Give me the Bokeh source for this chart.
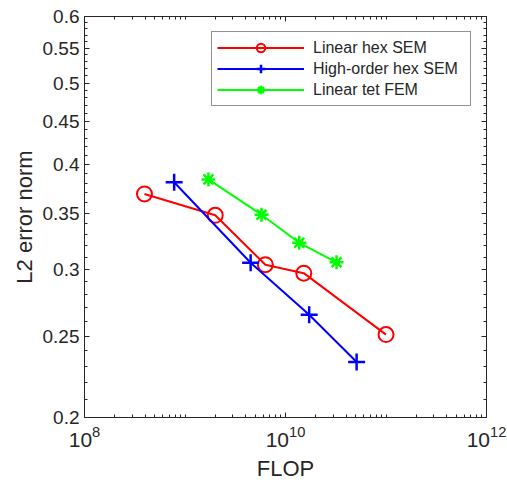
from bokeh.plotting import figure
from bokeh.models import (LogAxis, FixedTicker, NumeralTickFormatter, Legend, LegendItem,
                          Range1d)
from bokeh.embed import file_html
from bokeh.resources import INLINE

# ---- data ----
hex_lin_flop = [3.95e8, 2.0e9, 6.3e9, 1.52e10, 1.0e11]
hex_lin_err = [0.369, 0.348, 0.304, 0.297, 0.251]

hex_ho_flop = [7.8e8, 4.5e9, 1.72e10, 5.1e10]
hex_ho_err = [0.381, 0.3056, 0.265, 0.2328]

tet_lin_flop = [1.71e9, 5.77e9, 1.37e10, 3.22e10]
tet_lin_err = [0.384, 0.3486, 0.3228, 0.306]

x_major = [1e8, 1e10, 1e12]
x_minor = [k * 10.0 ** e for e in range(8, 12) for k in range(1, 10) if not (k == 1 and e % 2 == 0)]
y_major = [0.2, 0.25, 0.3, 0.35, 0.4, 0.45, 0.5, 0.55, 0.6]
y_minor = [round(0.2 + 0.01 * i, 2) for i in range(1, 40) if i % 5 != 0]

FONT = "Liberation Sans"
TXT = "#262626"

p = figure(width=507, height=485, x_axis_type="log", y_axis_type="log",
           x_range=Range1d(1e8, 1e12), y_range=Range1d(0.2, 0.6),
           output_backend="svg", toolbar_location=None,
           min_border_left=84, min_border_right=21, min_border_top=16, min_border_bottom=68)

p.background_fill_color = "white"
p.border_fill_color = "white"
p.outline_line_color = TXT
p.outline_line_width = 1
p.xgrid.visible = False
p.ygrid.visible = False

def style_axis(ax, show_labels=True):
    ax.axis_line_color = TXT
    ax.major_tick_line_color = TXT
    ax.minor_tick_line_color = TXT
    ax.major_tick_in = 5
    ax.major_tick_out = 0
    ax.minor_tick_in = 3
    ax.minor_tick_out = 0
    ax.major_label_text_font = FONT
    ax.major_label_text_color = TXT
    ax.major_label_text_font_size = "19px"
    ax.axis_label_text_font = FONT
    ax.axis_label_text_color = TXT
    ax.axis_label_text_font_size = "22px"
    ax.axis_label_text_font_style = "normal"
    if not show_labels:
        ax.major_label_text_alpha = 0
        ax.major_label_text_font_size = "2px"

xax = p.xaxis[0]
xax.ticker = FixedTicker(ticks=x_major, minor_ticks=x_minor)
xax.axis_label = "FLOP"
style_axis(xax)
xax.major_label_text_font_size = "21px"
xax.major_label_standoff = 8
xax.axis_label_standoff = 6

yax = p.yaxis[0]
yax.ticker = FixedTicker(ticks=y_major, minor_ticks=y_minor)
yax.formatter = NumeralTickFormatter(format="0.0[0]")
yax.axis_label = "L2 error norm"
style_axis(yax)
yax.major_label_standoff = 5
yax.axis_label_standoff = 3

top = LogAxis(ticker=FixedTicker(ticks=x_major, minor_ticks=x_minor),
              formatter=NumeralTickFormatter(format="0"))
style_axis(top, show_labels=False)
top.major_label_standoff = 0
p.add_layout(top, "above")

right = LogAxis(ticker=FixedTicker(ticks=y_major, minor_ticks=y_minor),
                formatter=NumeralTickFormatter(format="0.0[0]"))
style_axis(right, show_labels=False)
right.major_label_standoff = 0
p.add_layout(right, "right")

r1l = p.line(hex_lin_flop, hex_lin_err, line_color="#ff0000", line_width=2)
r1m = p.scatter(hex_lin_flop, hex_lin_err, marker="circle", size=15, line_color="#ff0000",
                fill_color=None, line_width=2)
r2l = p.line(hex_ho_flop, hex_ho_err, line_color="#0000ff", line_width=2)
r2m = p.scatter(hex_ho_flop, hex_ho_err, marker="cross", size=17, line_color="#0000ff",
                line_width=2.5)
r3l = p.line(tet_lin_flop, tet_lin_err, line_color="#00ff00", line_width=2)
r3m = p.scatter(tet_lin_flop, tet_lin_err, marker="asterisk", size=14, line_color="#00ff00",
                line_width=2.5)

legend = Legend(items=[
    LegendItem(label="Linear hex SEM", renderers=[r1l, r1m]),
    LegendItem(label="High-order hex SEM", renderers=[r2l, r2m]),
    LegendItem(label="Linear tet FEM", renderers=[r3l, r3m]),
], location="top_right")
legend.margin = 15
legend.padding = 5
legend.spacing = 0
legend.glyph_width = 87
legend.glyph_height = 21
legend.label_height = 21
legend.label_width = 152
legend.label_standoff = 9
legend.label_text_font = FONT
legend.label_text_font_size = "16px"
legend.label_text_color = TXT
legend.border_line_color = TXT
legend.border_line_width = 1
legend.background_fill_color = "white"
legend.background_fill_alpha = 1
p.add_layout(legend, "center")

open("out.html", "w").write(file_html(p, INLINE))
